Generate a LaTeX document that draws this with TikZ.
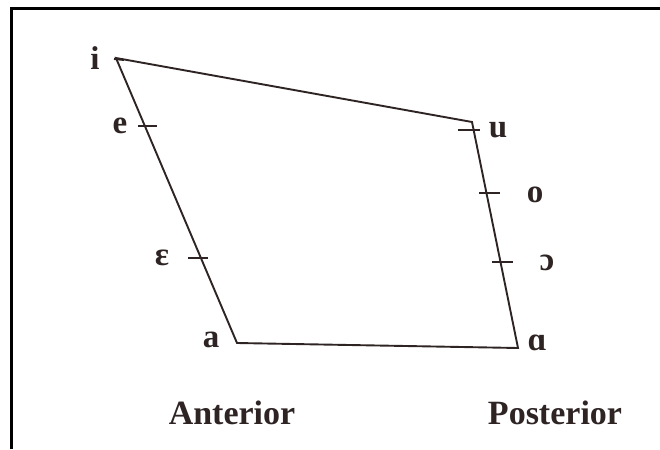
\documentclass[tikz,border=0pt]{standalone}
\usepackage{fontspec}
\setmainfont{Liberation Serif}
\definecolor{ink}{HTML}{2E2424}
\begin{document}
\begin{tikzpicture}[x=1pt,y=-1pt,
  lbl/.style={font=\fontsize{33}{35}\selectfont\bfseries, text=ink, inner sep=0pt},
  sidelabel/.style={font=\fontsize{34}{36}\selectfont\bfseries, text=ink, inner sep=0pt},
  edge/.style={draw=ink, line width=1.9pt},
  tickmark/.style={draw=ink, line width=1.9pt},
  frame/.style={draw=black, line width=3pt}]
\useasboundingbox (0,0) rectangle (660,449);
% frame
\draw[frame] (11,449) -- (11,9) -- (660,9);
% corners
\coordinate (I) at (116,58);
\coordinate (U) at (472,122);
\coordinate (BA) at (518,348);
\coordinate (A) at (237,343);
\draw[edge] (I) -- (U) -- (BA) -- (A) -- cycle;
% tick ends
\coordinate (ti1) at (114,59); \coordinate (ti2) at (124,60);
\coordinate (te1) at (138,126); \coordinate (te2) at (157,126);
\coordinate (tE1) at (188,258); \coordinate (tE2) at (208,258);
\coordinate (tu1) at (458,130); \coordinate (tu2) at (480,130);
\coordinate (to1) at (479,193); \coordinate (to2) at (500,193);
\coordinate (tO1) at (492,262); \coordinate (tO2) at (513,262);
\draw[tickmark] (ti1) -- (ti2);
\draw[tickmark] (te1) -- (te2);
\draw[tickmark] (tE1) -- (tE2);
\draw[tickmark] (tu1) -- (tu2);
\draw[tickmark] (to1) -- (to2);
\draw[tickmark] (tO1) -- (tO2);
% labels
\node[lbl] (li) at (95,58) {i};
\node[lbl] (le) at (120,126) {e};
\node[lbl] (lE) at (162,258) {ɛ};
\node[lbl] (la) at (211,340) {a};
\node[lbl] (lu) at (498,130) {u};
\node[lbl] (lo) at (535,195) {o};
\node[lbl] (lO) at (547,263) {ɔ};
\node[lbl] (lA) at (537,343) {ɑ};
\node[sidelabel] (ant) at (232,413) {Anterior};
\node[sidelabel] (post) at (555,413) {Posterior};
\end{tikzpicture}
\end{document}
